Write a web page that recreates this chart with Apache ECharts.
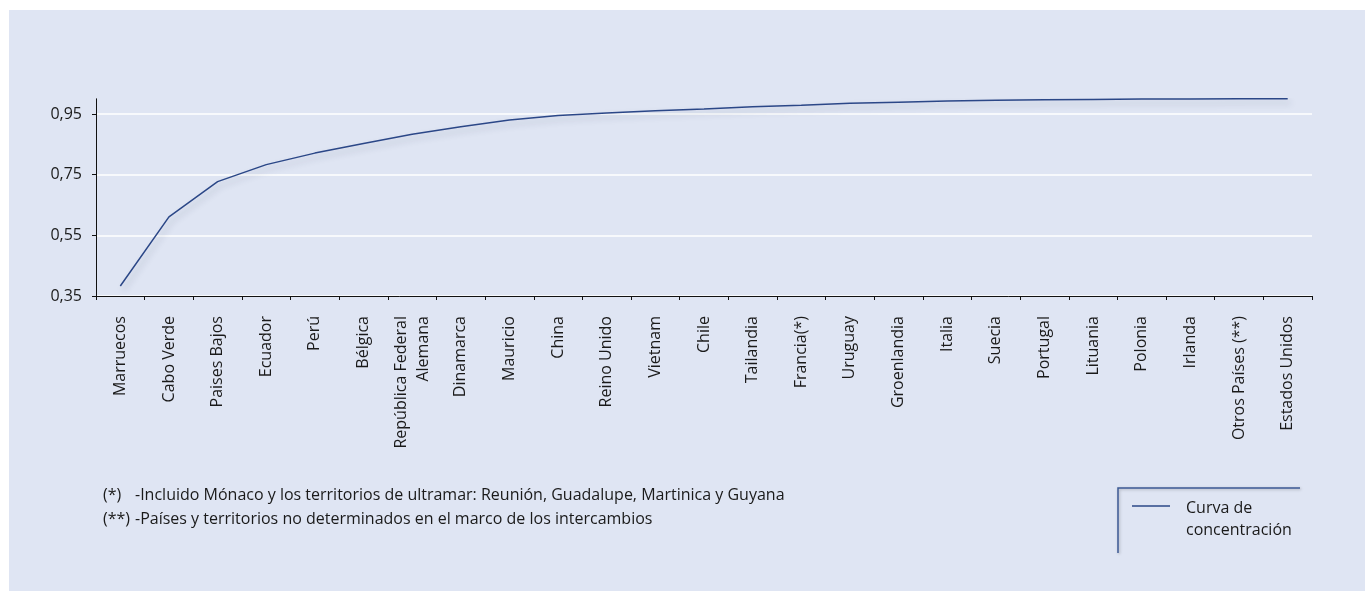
<!DOCTYPE html>
<html>
<head>
<meta charset="utf-8">
<script src="https://cdn.jsdelivr.net/npm/echarts@6/dist/echarts.min.js"></script>
<style>
  html, body { margin: 0; padding: 0; background: #ffffff; }
  #chart { width: 1365px; height: 591px; }
</style>
</head>
<body>
<div id="chart"></div>
<script>
// categories along the x axis
const countries = [
  "Marruecos", "Cabo Verde", "Paises Bajos", "Ecuador", "Perú", "Bélgica",
  "República Federal\nAlemana", "Dinamarca", "Mauricio", "China", "Reino Unido",
  "Vietnam", "Chile", "Tailandia", "Francia(*)", "Uruguay", "Groenlandia",
  "Italia", "Suecia", "Portugal", "Lituania", "Polonia", "Irlanda",
  "Otros Países (**)", "Estados Unidos"
];
// cumulative share
const concentration = [
  0.383, 0.611, 0.727, 0.783, 0.821, 0.853, 0.883, 0.908, 0.930, 0.945,
  0.953, 0.961, 0.966, 0.974, 0.979, 0.985, 0.989, 0.993, 0.995, 0.997,
  0.998, 0.999, 0.9995, 0.9998, 1.0
];
const yTicks = { min: 0.35, max: 1.0, step: 0.2 };
const footnotes = [
  ["(*)", "-Incluido Mónaco y los territorios de ultramar: Reunión, Guadalupe, Martinica y Guyana"],
  ["(**)", "-Países y territorios no determinados en el marco de los intercambios"]
];
const seriesName = "Curva de concentración";

const font = "'Open Sans', sans-serif";
const lineColor = "#2b4787";

const chart = echarts.init(document.getElementById("chart"));

const noteGraphics = [];
footnotes.forEach((n, i) => {
  noteGraphics.push({
    type: "text", left: 103, top: 487 + i * 24,
    style: { text: n[0], font: "16px " + font, fill: "#1a1a1a" }
  });
  noteGraphics.push({
    type: "text", left: 135, top: 487 + i * 24,
    style: { text: n[1], font: "16px " + font, fill: "#1a1a1a" }
  });
});

const option = {
  backgroundColor: "#ffffff",
  animation: false,
  grid: { left: 96, right: 53, top: 98.8, bottom: 295 },
  xAxis: {
    type: "category",
    data: countries,
    boundaryGap: true,
    axisLine: { lineStyle: { color: "#111", width: 1 } },
    axisTick: { show: true, length: 4, lineStyle: { color: "#111" } },
    axisLabel: {
      rotate: 90, interval: 0, margin: 20,
      fontFamily: font, fontSize: 16, color: "#1a1a1a", lineHeight: 22
    }
  },
  yAxis: {
    type: "value",
    min: yTicks.min, max: yTicks.max, interval: yTicks.step,
    axisLine: { show: true, lineStyle: { color: "#111", width: 1 } },
    axisTick: { show: true, length: 4, lineStyle: { color: "#111" } },
    axisLabel: {
      showMaxLabel: false, margin: 14,
      fontFamily: font, fontSize: 16, color: "#1a1a1a",
      formatter: v => v.toFixed(2).replace(".", ",")
    },
    splitLine: {
      show: true, showMaxLine: false,
      lineStyle: { color: "#ffffff", width: 1.5 }
    }
  },
  series: [{
    name: seriesName,
    type: "line",
    data: concentration,
    symbol: "none",
    lineStyle: {
      color: lineColor, width: 1.5,
      shadowColor: "rgba(40,50,80,0.25)", shadowBlur: 6, shadowOffsetX: 3, shadowOffsetY: 4
    }
  }],
  graphic: [
    {
      type: "rect", left: 9, top: 10, z: -10,
      shape: { width: 1356, height: 581 },
      style: { fill: "#dfe5f3" }
    },
    // legend box
    {
      type: "polyline", z: 10,
      shape: { points: [[1118, 553], [1118, 488], [1300, 488]] },
      style: { stroke: "#3c5a94", lineWidth: 1.5, fill: null,
        shadowColor: "rgba(0,0,0,0.25)", shadowBlur: 3, shadowOffsetX: 1, shadowOffsetY: 1 }
    },
    {
      type: "line", z: 10,
      shape: { x1: 1132, y1: 506, x2: 1170, y2: 506 },
      style: { stroke: lineColor, lineWidth: 1.5 }
    },
    {
      type: "text", left: 1186, top: 497, z: 10,
      style: { text: "Curva de\nconcentración", font: "16px " + font, lineHeight: 22, fill: "#1a1a1a" }
    }
  ].concat(noteGraphics)
};

chart.setOption(option);
</script>
</body>
</html>
